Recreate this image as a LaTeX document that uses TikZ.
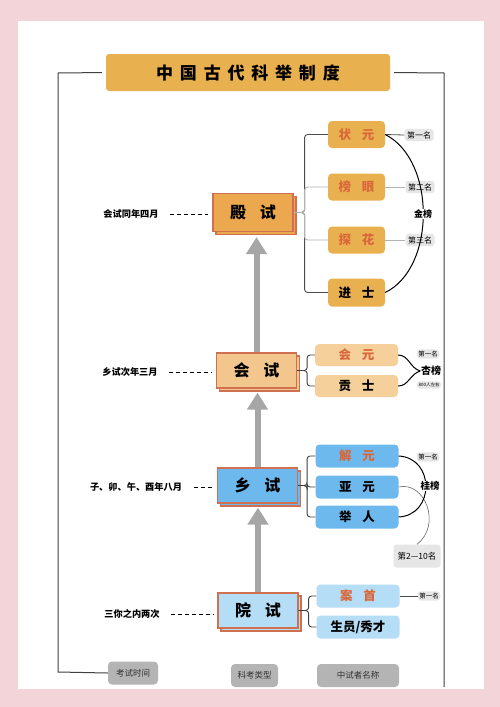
\documentclass[tikz,border=0pt]{standalone}
\usepackage{fontspec}
\setmainfont{Noto Sans CJK SC}
\usetikzlibrary{arrows.meta,shadows}
\definecolor{pinkbg}{HTML}{F2D4D9}
\definecolor{gold}{HTML}{E9B04F}
\definecolor{dianfill}{HTML}{EBA84E}
\definecolor{huifill}{HTML}{F3C68E}
\definecolor{huiitem}{HTML}{F5D09B}
\definecolor{xiangfill}{HTML}{6DB9EE}
\definecolor{yuanfill}{HTML}{B5DDF5}
\definecolor{edgered}{HTML}{CF7150}
\definecolor{redtext}{HTML}{D9673A}
\definecolor{tag}{HTML}{E6E6E6}
\definecolor{footgray}{HTML}{B4B4B4}
\definecolor{arrowgray}{HTML}{A6A6A6}
\newcommand{\kjgap}{\hspace{0.85em}}
\newcommand{\kjtgap}{\hspace{0.4em}}
\tikzset{
  level/.style={draw=edgered, line width=1.2pt, minimum width=80pt, minimum height=35pt,
    font=\bfseries\fontsize{16}{16}\selectfont,
    copy shadow={shadow xshift=3pt,shadow yshift=-3pt}},
  item/.style={rounded corners=4pt, minimum width=83pt, minimum height=23pt,
    font=\bfseries\fontsize{12.5}{13}\selectfont},
  rank/.style={fill=tag, rounded corners=3pt, inner sep=2.5pt, font=\fontsize{8}{8}\selectfont},
  when/.style={font=\bfseries\fontsize{9.2}{10}\selectfont},
  foot/.style={fill=footgray, rounded corners=4pt, minimum height=23pt, text=black!80,
    font=\fontsize{8.5}{9}\selectfont},
  branch/.style={draw=black!75, line width=0.9pt, rounded corners=3pt},
  up/.style={line width=6pt, draw=arrowgray, -{Triangle[width=20pt,length=17pt]}},
}
\begin{document}
\begin{tikzpicture}[x=1pt,y=-1pt]
   \fill[pinkbg] (0,0) rectangle (500,707);
   \fill[white] (18,21) rectangle (484,689);
   \useasboundingbox (0,0) rectangle (500,707);

   % title and frame
   \node[fill=gold, rounded corners=3pt, minimum width=284pt, minimum height=37pt,
     font=\bfseries\fontsize{17}{17}\selectfont] (title) at (248,72.5)
     {中\kjtgap 国\kjtgap 古\kjtgap 代\kjtgap 科\kjtgap 举\kjtgap 制\kjtgap 度};
   \coordinate (tl) at (58,73);
   \coordinate (bl) at (58,672);
   \coordinate (tr) at (444,73);
   \coordinate (br) at (444,687);

   % exam levels
   \node[level, fill=dianfill, minimum height=38pt] (dian) at (253,212.5) {殿\kjgap 试};
   \node[level, fill=huifill] (hui) at (256.5,370.5) {会\kjgap 试};
   \node[level, fill=xiangfill] (xiang) at (257.5,485.5) {乡\kjgap 试};
   \node[level, fill=yuanfill] (yuan) at (258,610.5) {院\kjgap 试};

   % times
   \node[when] (t1) at (131,214) {会试同年四月};
   \node[when] (t2) at (130,372) {乡试次年三月};
   \node[when] (t3) at (136,487) {子、卯、午、酉年八月};
   \node[when] (t4) at (132,614) {三你之内两次};

   % titles of the successful
   \node[item, fill=gold, minimum width=57pt, minimum height=27pt, text=redtext] (zy) at (356.5,134.5) {状\kjgap 元};
   \node[item, fill=gold, minimum width=57pt, minimum height=27pt, text=redtext] (by) at (356.5,187) {榜\kjgap 眼};
   \node[item, fill=gold, minimum width=57pt, minimum height=27pt, text=redtext] (th) at (356.5,240) {探\kjgap 花};
   \node[item, fill=gold, minimum width=57pt, minimum height=28pt] (js) at (356.5,292.5) {进\kjgap 士};
   \node[item, fill=huiitem, minimum height=22pt, text=redtext] (hy) at (356.5,355) {会\kjgap 元};
   \node[item, fill=huiitem, minimum height=22pt] (gs) at (356.5,386) {贡\kjgap 士};
   \node[item, fill=xiangfill, text=redtext] (jy) at (357,456) {解\kjgap 元};
   \node[item, fill=xiangfill] (yy) at (357,487) {亚\kjgap 元};
   \node[item, fill=xiangfill] (jr) at (357,517) {举\kjgap 人};
   \node[item, fill=yuanfill, text=redtext] (az) at (358,596) {案\kjgap 首};
   \node[item, fill=yuanfill] (sy) at (358,627) {生员/秀才};

   % ranks
   \node[rank] (d1) at (419,135) {第一名};
   \node[rank] (d2) at (420,187) {第二名};
   \node[rank] (d3) at (420,240) {第三名};
   \node[rank, inner sep=1.5pt, font=\fontsize{6.5}{7}\selectfont] (h1) at (428,354) {第一名};
   \node[rank, inner sep=1.5pt, font=\fontsize{4.5}{5}\selectfont] (h2) at (429,385) {800人左右};
   \node[rank, inner sep=1.5pt, font=\fontsize{6.5}{7}\selectfont] (x1) at (428,457) {第一名};
   \node[rank, minimum width=47pt, minimum height=23pt, font=\fontsize{8.5}{9}\selectfont] (x2) at (417,556) {第2—10名};
   \node[rank, inner sep=1.5pt, font=\fontsize{6.5}{7}\selectfont] (a1) at (429,596) {第一名};

   % footer
   \node[foot, minimum width=50pt] (f1) at (133,673) {考试时间};
   \node[foot, minimum width=47pt] (f2) at (254.5,675.5) {科考类型};
   \node[foot, minimum width=82pt] (f3) at (358,675.5) {中试者名称};

   \draw[black!75, line width=1pt, shorten <=4pt] (title.west) -- (tl) -- (bl) -- (f1.west);
   \draw[black!75, line width=1pt, shorten <=4pt] (title.east) -- (tr) -- (br);

   % arrows between levels
   \draw[up, shorten >=5pt] (hui.north) -- (hui.north |- dian.south);
   \draw[up, shorten >=4pt] (xiang.north) -- (xiang.north |- hui.south);
   \draw[up, shorten >=4pt] (yuan.north) -- (yuan.north |- xiang.south);

   % dashed time lines
   \draw[dashed, dash pattern=on 4pt off 3pt, line width=0.9pt, shorten <=8pt, shorten >=4pt] (t1.east) -- (t1.east -| dian.west);
   \draw[dashed, dash pattern=on 4pt off 3pt, line width=0.9pt, shorten <=8pt, shorten >=4pt] (t2.east) -- (t2.east -| hui.west);
   \draw[dashed, dash pattern=on 4pt off 3pt, line width=0.9pt, shorten <=8pt, shorten >=4pt] (t3.east) -- (t3.east -| xiang.west);
   \draw[dashed, dash pattern=on 4pt off 3pt, line width=0.9pt, shorten <=8pt, shorten >=4pt] (t4.east) -- (t4.east -| yuan.west);

   % brackets
   \draw[branch, black!70] (dian.east) -- ++(11,0) |- (zy.west);
   \draw[branch, black!70] (dian.east) -- ++(11,0) |- (js.west);
   \draw[branch, black!30] (dian.east) -- ++(11,0) |- (by.west);
   \draw[branch, black!30] (dian.east) -- ++(11,0) |- (th.west);
   \draw[branch] (hui.east) -- ++(10,0) |- (hy.west);
   \draw[branch] (hui.east) -- ++(10,0) |- (gs.west);
   \draw[branch] (xiang.east) -- ++(9,0) |- (jy.west);
   \draw[branch] (xiang.east) -- ++(9,0) |- (yy.west);
   \draw[branch] (xiang.east) -- ++(9,0) |- (jr.west);
   \draw[branch] (yuan.east) -- ++(10,0) |- (az.west);
   \draw[branch] (yuan.east) -- ++(10,0) |- (sy.west);

   % rank lines
   \draw[black!70, line width=0.8pt] (zy.east) -- (d1.west);
   \draw[black!30, line width=0.8pt] (by.east) -- (d2.west);
   \draw[black!30, line width=0.8pt] (th.east) -- (d3.west);
   \draw[black!70, line width=0.8pt] (az.east) -- (a1.west);

   % lists
   \draw[line width=1pt] (zy.east) .. controls (436,160) and (436,268) .. (js.east);
   \node[fill=white, inner sep=1pt, font=\bfseries\fontsize{9}{9}\selectfont] (jb) at (423,214) {金榜};
   \node[fill=white, inner sep=0.5pt, font=\bfseries\fontsize{10}{10}\selectfont] (xb) at (431,371) {杏榜};
   \draw[line width=1pt] (hy.east) to[out=0, in=165] (xb.west);
   \draw[line width=1pt] (gs.east) to[out=0, in=195] (xb.west);
   \draw[black!60, line width=0.6pt] (yy.east) .. controls (425,481) and (442,525) .. (x2.north);
   \draw[line width=1pt] (jy.east) .. controls (435,458) and (435,515) .. (jr.east);
   \node[fill=white, inner sep=0.5pt, font=\bfseries\fontsize{9.5}{10}\selectfont] (gb) at (430,486) {桂榜};
\end{tikzpicture}
\end{document}
